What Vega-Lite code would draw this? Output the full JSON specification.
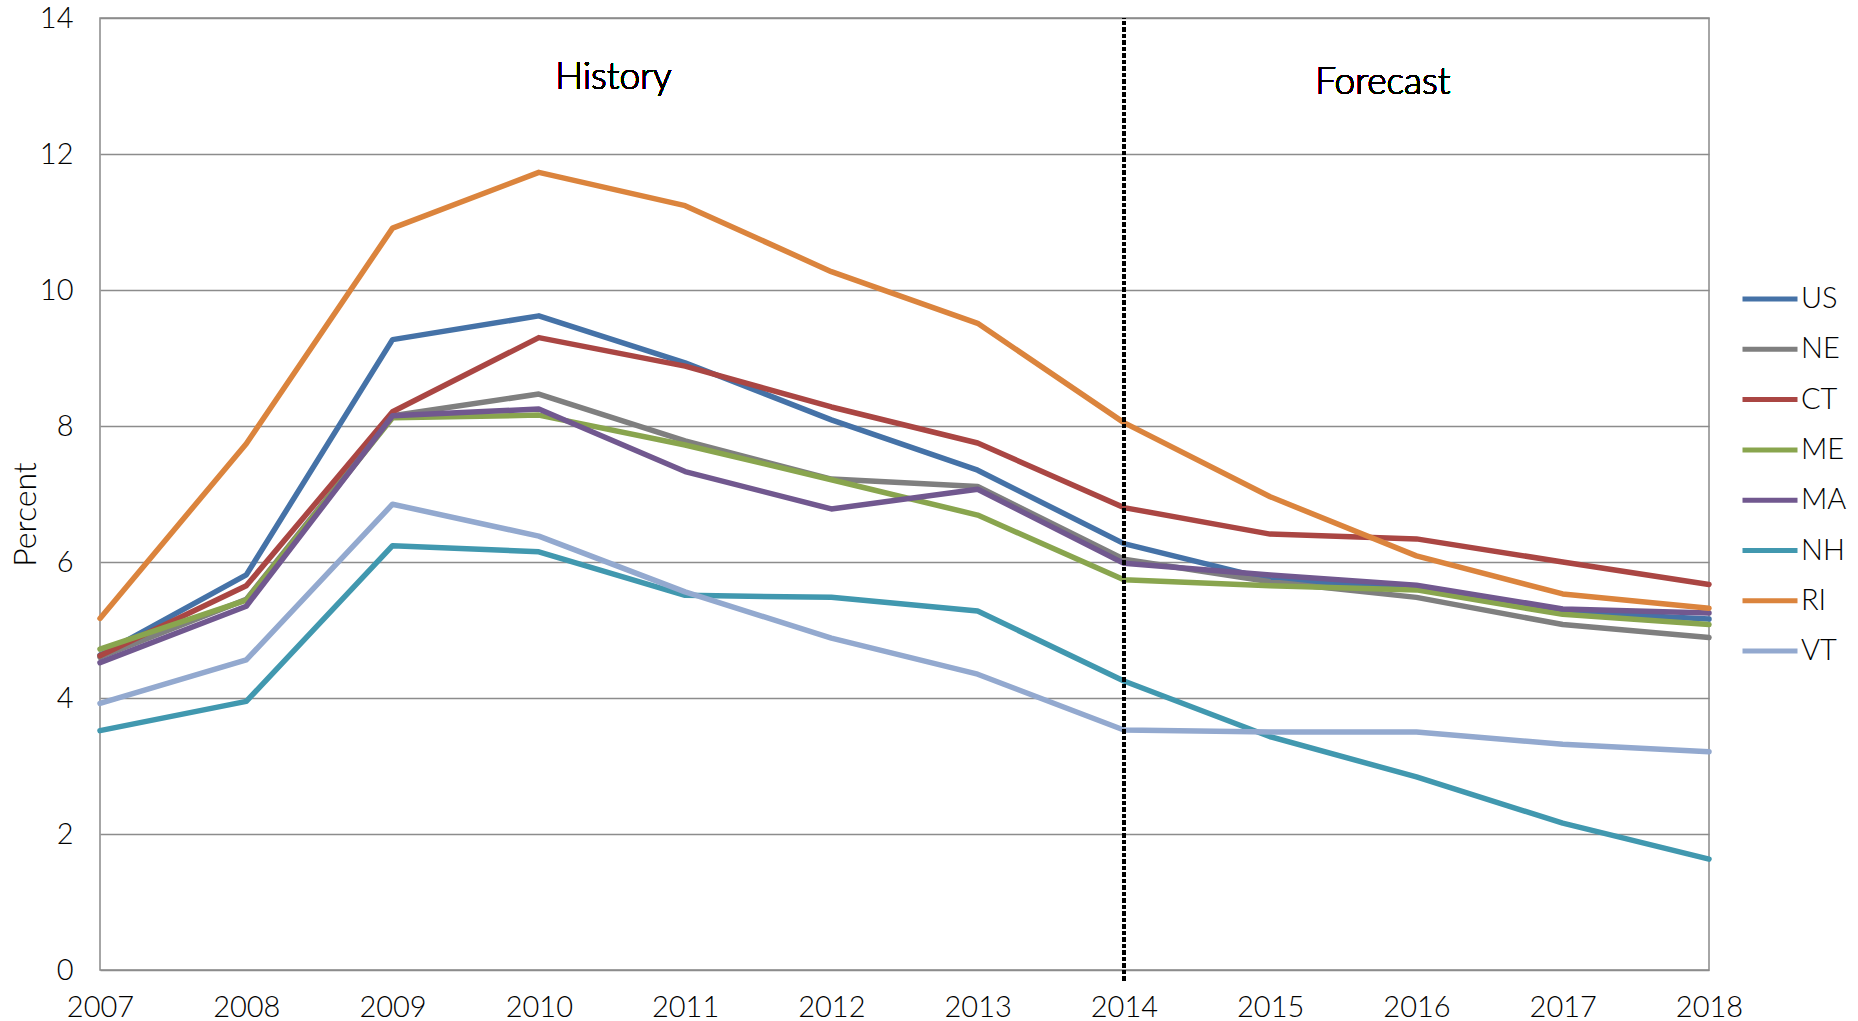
{
  "$schema": "https://vega.github.io/schema/vega-lite/v6.json",
  "autosize": {"type": "none"},
  "padding": {"left": 100, "top": 18, "right": 149, "bottom": 51},
  "width": 1609,
  "height": 952,
  "background": "white",
  "config": {
    "font": "Lato",
    "view": {"stroke": "#898989", "strokeWidth": 1.5}
  },
  "data": {
    "values": [
      {"region": "US", "year": 2007, "value": 4.63}, {"region": "US", "year": 2008, "value": 5.81}, {"region": "US", "year": 2009, "value": 9.27}, {"region": "US", "year": 2010, "value": 9.62}, {"region": "US", "year": 2011, "value": 8.93}, {"region": "US", "year": 2012, "value": 8.09}, {"region": "US", "year": 2013, "value": 7.35}, {"region": "US", "year": 2014, "value": 6.27}, {"region": "US", "year": 2015, "value": 5.74}, {"region": "US", "year": 2016, "value": 5.61}, {"region": "US", "year": 2017, "value": 5.27}, {"region": "US", "year": 2018, "value": 5.16},
      {"region": "NE", "year": 2007, "value": 4.6}, {"region": "NE", "year": 2008, "value": 5.45}, {"region": "NE", "year": 2009, "value": 8.15}, {"region": "NE", "year": 2010, "value": 8.47}, {"region": "NE", "year": 2011, "value": 7.78}, {"region": "NE", "year": 2012, "value": 7.22}, {"region": "NE", "year": 2013, "value": 7.11}, {"region": "NE", "year": 2014, "value": 6.04}, {"region": "NE", "year": 2015, "value": 5.71}, {"region": "NE", "year": 2016, "value": 5.48}, {"region": "NE", "year": 2017, "value": 5.08}, {"region": "NE", "year": 2018, "value": 4.89},
      {"region": "CT", "year": 2007, "value": 4.62}, {"region": "CT", "year": 2008, "value": 5.65}, {"region": "CT", "year": 2009, "value": 8.21}, {"region": "CT", "year": 2010, "value": 9.3}, {"region": "CT", "year": 2011, "value": 8.88}, {"region": "CT", "year": 2012, "value": 8.28}, {"region": "CT", "year": 2013, "value": 7.75}, {"region": "CT", "year": 2014, "value": 6.8}, {"region": "CT", "year": 2015, "value": 6.41}, {"region": "CT", "year": 2016, "value": 6.34}, {"region": "CT", "year": 2017, "value": 6.0}, {"region": "CT", "year": 2018, "value": 5.67},
      {"region": "ME", "year": 2007, "value": 4.72}, {"region": "ME", "year": 2008, "value": 5.44}, {"region": "ME", "year": 2009, "value": 8.12}, {"region": "ME", "year": 2010, "value": 8.16}, {"region": "ME", "year": 2011, "value": 7.72}, {"region": "ME", "year": 2012, "value": 7.21}, {"region": "ME", "year": 2013, "value": 6.69}, {"region": "ME", "year": 2014, "value": 5.74}, {"region": "ME", "year": 2015, "value": 5.65}, {"region": "ME", "year": 2016, "value": 5.59}, {"region": "ME", "year": 2017, "value": 5.23}, {"region": "ME", "year": 2018, "value": 5.08},
      {"region": "MA", "year": 2007, "value": 4.52}, {"region": "MA", "year": 2008, "value": 5.35}, {"region": "MA", "year": 2009, "value": 8.15}, {"region": "MA", "year": 2010, "value": 8.25}, {"region": "MA", "year": 2011, "value": 7.33}, {"region": "MA", "year": 2012, "value": 6.78}, {"region": "MA", "year": 2013, "value": 7.07}, {"region": "MA", "year": 2014, "value": 5.98}, {"region": "MA", "year": 2015, "value": 5.81}, {"region": "MA", "year": 2016, "value": 5.66}, {"region": "MA", "year": 2017, "value": 5.31}, {"region": "MA", "year": 2018, "value": 5.25},
      {"region": "NH", "year": 2007, "value": 3.52}, {"region": "NH", "year": 2008, "value": 3.95}, {"region": "NH", "year": 2009, "value": 6.24}, {"region": "NH", "year": 2010, "value": 6.15}, {"region": "NH", "year": 2011, "value": 5.51}, {"region": "NH", "year": 2012, "value": 5.48}, {"region": "NH", "year": 2013, "value": 5.28}, {"region": "NH", "year": 2014, "value": 4.25}, {"region": "NH", "year": 2015, "value": 3.43}, {"region": "NH", "year": 2016, "value": 2.84}, {"region": "NH", "year": 2017, "value": 2.16}, {"region": "NH", "year": 2018, "value": 1.63},
      {"region": "RI", "year": 2007, "value": 5.17}, {"region": "RI", "year": 2008, "value": 7.74}, {"region": "RI", "year": 2009, "value": 10.91}, {"region": "RI", "year": 2010, "value": 11.73}, {"region": "RI", "year": 2011, "value": 11.24}, {"region": "RI", "year": 2012, "value": 10.27}, {"region": "RI", "year": 2013, "value": 9.51}, {"region": "RI", "year": 2014, "value": 8.05}, {"region": "RI", "year": 2015, "value": 6.96}, {"region": "RI", "year": 2016, "value": 6.09}, {"region": "RI", "year": 2017, "value": 5.53}, {"region": "RI", "year": 2018, "value": 5.32},
      {"region": "VT", "year": 2007, "value": 3.92}, {"region": "VT", "year": 2008, "value": 4.56}, {"region": "VT", "year": 2009, "value": 6.85}, {"region": "VT", "year": 2010, "value": 6.38}, {"region": "VT", "year": 2011, "value": 5.56}, {"region": "VT", "year": 2012, "value": 4.88}, {"region": "VT", "year": 2013, "value": 4.35}, {"region": "VT", "year": 2014, "value": 3.53}, {"region": "VT", "year": 2015, "value": 3.5}, {"region": "VT", "year": 2016, "value": 3.5}, {"region": "VT", "year": 2017, "value": 3.32}, {"region": "VT", "year": 2018, "value": 3.21}
    ]
  },
  "layer": [
    {
      "mark": {"type": "line", "strokeWidth": 5.5, "strokeJoin": "round", "strokeCap": "round"},
      "encoding": {
        "x": {
          "field": "year", "type": "quantitative",
          "scale": {"domain": [2007, 2018], "nice": false, "zero": false},
          "axis": {
            "title": null, "values": [2007, 2008, 2009, 2010, 2011, 2012, 2013, 2014, 2015, 2016, 2017, 2018],
            "format": "d", "grid": false, "ticks": false, "domain": false,
            "labelFontSize": 29, "labelColor": "#000000", "labelPadding": 23, "labelFont": "Lato", "labelFontWeight": 300,
            "labelFlush": false
          }
        },
        "y": {
          "field": "value", "type": "quantitative",
          "scale": {"domain": [0, 14], "nice": false},
          "axis": {
            "title": "Percent", "values": [0, 2, 4, 6, 8, 10, 12, 14], "format": "d",
            "grid": true, "gridColor": "#8c8c8c", "gridWidth": 1.4,
            "ticks": false, "domain": false,
            "labelFontSize": 29, "labelColor": "#000000", "labelPadding": 27, "labelFont": "Lato", "labelFontWeight": 300,
            "titleFontSize": 32, "titleFontWeight": 300, "titleColor": "#000000", "titleFont": "Lato",
            "titleAngle": -90, "titleX": -75, "titleY": 496, "titleBaseline": "middle", "titleAlign": "center"
          }
        },
        "color": {
          "field": "region", "type": "nominal",
          "sort": ["US", "NE", "CT", "ME", "MA", "NH", "RI", "VT"],
          "scale": {
            "domain": ["US", "NE", "CT", "ME", "MA", "NH", "RI", "VT"],
            "range": ["#4572A7", "#7F7F7F", "#AA4643", "#89A54E", "#71588F", "#4198AF", "#DB843D", "#93A9CF"]
          },
          "legend": {
            "title": null, "orient": "none", "legendX": 1640, "legendY": 251,
            "symbolType": "stroke", "symbolSize": 3025, "symbolStrokeWidth": 5,
            "labelFontSize": 29, "labelFont": "Lato", "labelFontWeight": 300, "labelColor": "#000000", "labelOffset": 1,
            "rowPadding": 5.3
          }
        }
      }
    },
    {
      "mark": {"type": "rule", "color": "#000000", "strokeWidth": 3, "strokeDash": [3.5, 3], "clip": false},
      "encoding": {
        "x": {"datum": 2014, "type": "quantitative"},
        "y": {"datum": -0.15, "type": "quantitative"},
        "y2": {"datum": 14}
      }
    },
    {
      "mark": {"type": "text", "fontSize": 37, "font": "Lato", "fontWeight": 300, "color": "#000000", "align": "center", "baseline": "middle"},
      "encoding": {
        "x": {"datum": 2010.51, "type": "quantitative"},
        "y": {"datum": 13.12, "type": "quantitative"},
        "text": {"value": "History"}
      }
    },
    {
      "mark": {"type": "text", "fontSize": 37, "font": "Lato", "fontWeight": 300, "color": "#000000", "align": "center", "baseline": "middle"},
      "encoding": {
        "x": {"datum": 2015.77, "type": "quantitative"},
        "y": {"datum": 13.04, "type": "quantitative"},
        "text": {"value": "Forecast"}
      }
    }
  ]
}
